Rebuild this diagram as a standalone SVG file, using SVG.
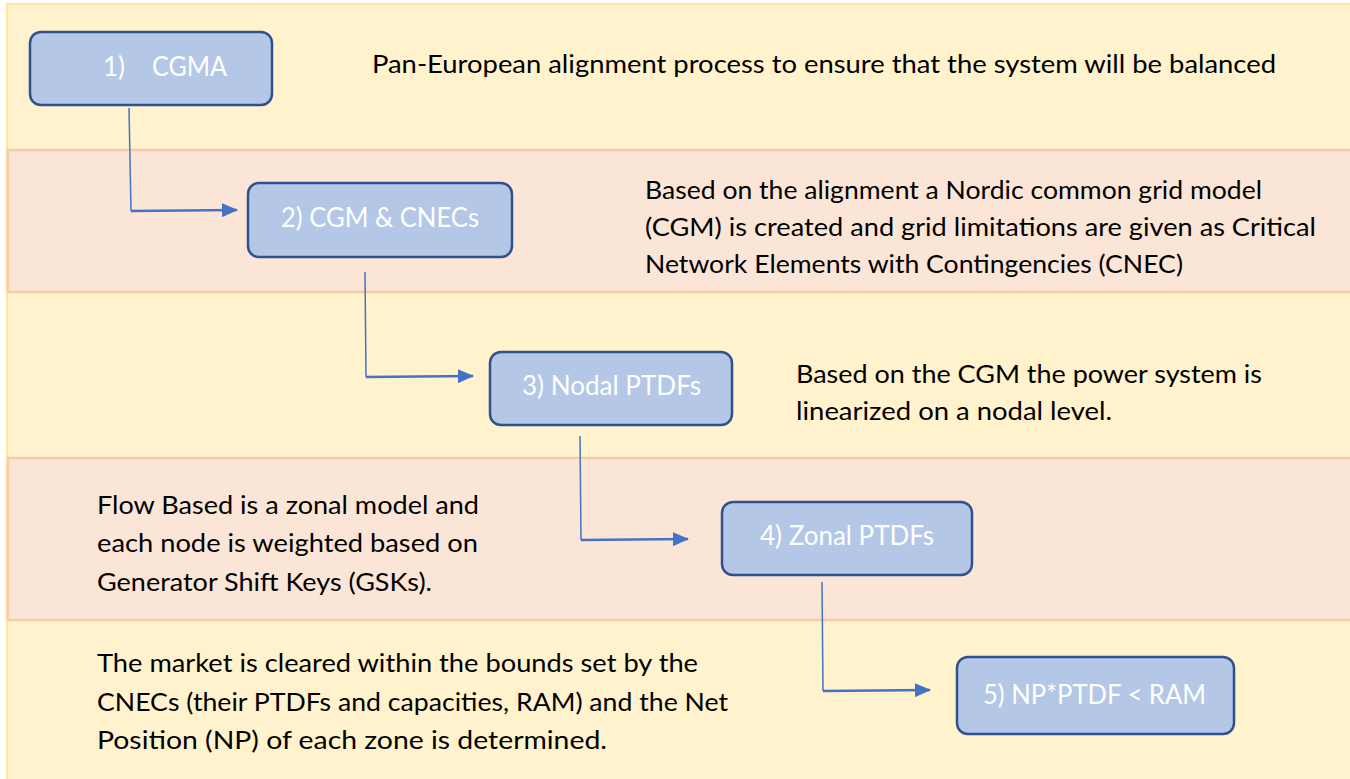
<svg xmlns="http://www.w3.org/2000/svg" width="1350" height="779" viewBox="0 0 1350 779">
  <defs>
    <style>
      .band-y { fill: #FFF2CC; stroke: #FFE699; stroke-width: 2; }
      .band-p { fill: #FBE5D6; stroke: #F8CBAD; stroke-width: 2.5; }
      .node rect { fill: #B4C7E7; stroke: #2F528F; stroke-width: 2.5; }
      .lbl { font-family: Lato, "Liberation Sans", sans-serif; font-size: 27px; fill: #FFFFFF; }
      .desc { font-family: Lato, "Liberation Sans", sans-serif; font-size: 25px; fill: #000000; }
      .conn-v { fill: none; stroke: #4472C4; stroke-width: 1.5; }
      .conn-h { fill: none; stroke: #4472C4; stroke-width: 2.5; }
    </style>
    <marker id="arrow" markerUnits="userSpaceOnUse" markerWidth="16" markerHeight="14" refX="15" refY="7" orient="auto">
      <path d="M0,0 L16,7 L0,14 Z" fill="#4472C4"/>
    </marker>
  </defs>

  <rect x="0" y="0" width="1350" height="779" fill="#FFFFFF"/>

  <g id="bands">
    <rect class="band-y" x="7" y="4" width="1350" height="780"/>
    <rect class="band-p" x="8" y="150" width="1350" height="142"/>
    <rect class="band-p" x="8" y="458" width="1350" height="162"/>
  </g>

  <g id="descriptions">
    <text class="desc" x="372" y="73" textLength="904" lengthAdjust="spacingAndGlyphs">Pan-European alignment process to ensure that the system will be balanced</text>
    <text class="desc" x="645" y="199" textLength="617" lengthAdjust="spacingAndGlyphs">Based on the alignment a Nordic common grid model</text>
    <text class="desc" x="645" y="236" textLength="671" lengthAdjust="spacingAndGlyphs">(CGM) is created and grid limitations are given as Critical</text>
    <text class="desc" x="645" y="273" textLength="538" lengthAdjust="spacingAndGlyphs">Network Elements with Contingencies (CNEC)</text>
    <text class="desc" x="796" y="383" textLength="466" lengthAdjust="spacingAndGlyphs">Based on the CGM the power system is</text>
    <text class="desc" x="796" y="420" textLength="316" lengthAdjust="spacingAndGlyphs">linearized on a nodal level.</text>
    <text class="desc" x="97" y="514" textLength="382" lengthAdjust="spacingAndGlyphs">Flow Based is a zonal model and</text>
    <text class="desc" x="97" y="552" textLength="381" lengthAdjust="spacingAndGlyphs">each node is weighted based on</text>
    <text class="desc" x="97" y="591" textLength="335" lengthAdjust="spacingAndGlyphs">Generator Shift Keys (GSKs).</text>
    <text class="desc" x="97" y="672" textLength="601" lengthAdjust="spacingAndGlyphs">The market is cleared within the bounds set by the</text>
    <text class="desc" x="97" y="711" textLength="631" lengthAdjust="spacingAndGlyphs">CNECs (their PTDFs and capacities, RAM) and the Net</text>
    <text class="desc" x="97" y="749" textLength="510" lengthAdjust="spacingAndGlyphs">Position (NP) of each zone is determined.</text>
  </g>

  <g id="connectors">
    <path class="conn-v" d="M129,108 L131,211"/>
    <path class="conn-h" d="M131,211 L237,210" marker-end="url(#arrow)"/>
    <path class="conn-v" d="M365,272 L366,377"/>
    <path class="conn-h" d="M366,377 L473,376" marker-end="url(#arrow)"/>
    <path class="conn-v" d="M580,436 L581,540"/>
    <path class="conn-h" d="M581,540 L688,539" marker-end="url(#arrow)"/>
    <path class="conn-v" d="M822,582 L823,691"/>
    <path class="conn-h" d="M823,691 L930,690" marker-end="url(#arrow)"/>
  </g>

  <g id="node1" class="node">
    <rect x="30" y="32" width="242" height="73" rx="11"/>
    <text class="lbl"><tspan x="103" y="76" textLength="22" lengthAdjust="spacingAndGlyphs">1)</tspan><tspan x="152" y="76" textLength="75" lengthAdjust="spacingAndGlyphs">CGMA</tspan></text>
  </g>
  <g id="node2" class="node">
    <rect x="248" y="183" width="264" height="74" rx="11"/>
    <text class="lbl" x="281" y="227" textLength="198" lengthAdjust="spacingAndGlyphs">2) CGM &amp; CNECs</text>
  </g>
  <g id="node3" class="node">
    <rect x="490" y="352" width="242" height="73" rx="11"/>
    <text class="lbl" x="522" y="395" textLength="179" lengthAdjust="spacingAndGlyphs">3) Nodal PTDFs</text>
  </g>
  <g id="node4" class="node">
    <rect x="722" y="502" width="250" height="73" rx="11"/>
    <text class="lbl" x="760" y="545" textLength="174" lengthAdjust="spacingAndGlyphs">4) Zonal PTDFs</text>
  </g>
  <g id="node5" class="node">
    <rect x="957" y="657" width="277" height="77" rx="11"/>
    <text class="lbl" x="983" y="704" textLength="223" lengthAdjust="spacingAndGlyphs">5) NP*PTDF &lt; RAM</text>
  </g>
</svg>
